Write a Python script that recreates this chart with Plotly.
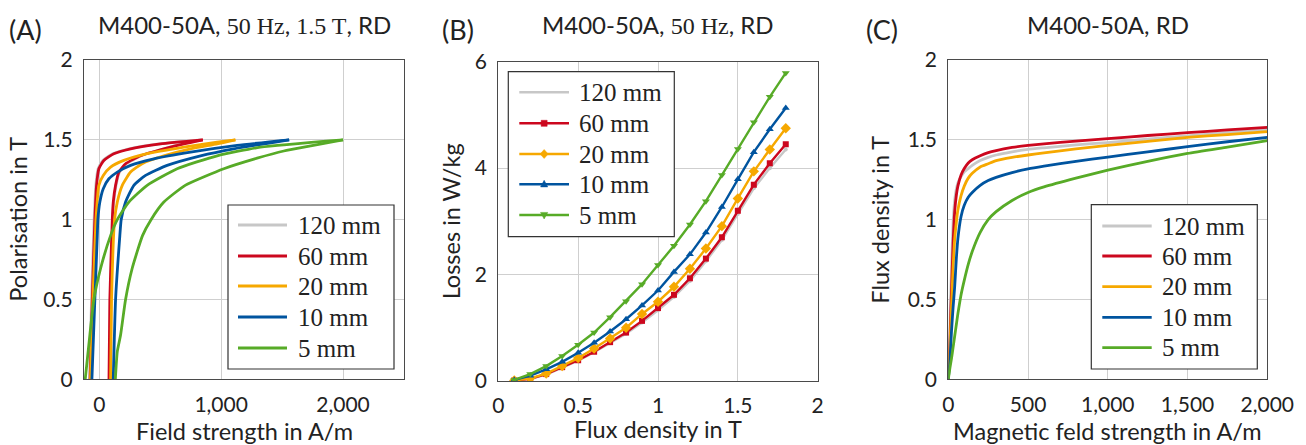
import plotly.graph_objects as go

W, H = 1306, 445
SANS = "Lato"
SERIF = "Liberation Serif"
INK = "#222222"

# ---------------- series meta ----------------
labels = ["120 mm", "60 mm", "20 mm", "10 mm", "5 mm"]
colors = ["#c7c7c7", "#cc071e", "#f6a800", "#00549f", "#57ab27"]
symbols_b = ["circle", "square", "diamond", "triangle-up", "triangle-down"]
msize_b = [4, 6, 8, 7, 7]

# ---------------- Panel A: hysteresis loops (H in A/m, J in T) ----------------
a_left_h = [
    [-81, -63, -42, -28, -9, 30, 110, 245, 490, 835],
    [-75, -57, -36, -22, -3, 38, 120, 257, 503, 850],
    [-72, -52, -27, -3, 33, 93, 202, 393, 694, 967, 1117],
    [-60, -36, -16, -11, 5, 33, 79, 148, 257, 448, 749, 1131, 1558],
    [-115, -77, -44, 11, 93, 148, 243, 393, 639, 967, 1322, 2000],
]
a_left_j = [
    [0, 0.5, 1.0, 1.215, 1.319, 1.371, 1.413, 1.444, 1.475, 1.5],
    [0, 0.5, 1.0, 1.215, 1.319, 1.371, 1.413, 1.444, 1.475, 1.5],
    [0, 0.5, 1.0, 1.215, 1.277, 1.329, 1.371, 1.413, 1.454, 1.485, 1.5],
    [0, 0.5, 0.9, 1.0, 1.11, 1.194, 1.256, 1.298, 1.34, 1.381, 1.423, 1.465, 1.5],
    [0, 0.277, 0.5, 0.694, 0.90, 1.0, 1.11, 1.215, 1.319, 1.40, 1.454, 1.5],
]
a_right_h = [
    [84, 91, 111, 119, 138, 166, 222, 345, 530, 680, 835],
    [80, 87, 107, 115, 134, 161, 216, 339, 530, 694, 850],
    [93, 101, 126, 148, 189, 257, 352, 530, 749, 967, 1117],
    [115, 134, 169, 180, 216, 284, 380, 557, 831, 1104, 1558],
    [132, 148, 175, 216, 270, 355, 425, 530, 705, 1022, 1295, 1514, 2000],
]
a_right_j = [
    [0, 0.5, 1.0, 1.11, 1.215, 1.298, 1.35, 1.40, 1.444, 1.475, 1.5],
    [0, 0.5, 1.0, 1.11, 1.215, 1.298, 1.35, 1.40, 1.444, 1.475, 1.5],
    [0, 0.5, 1.0, 1.11, 1.215, 1.298, 1.35, 1.40, 1.444, 1.475, 1.5],
    [0, 0.5, 0.9, 1.0, 1.11, 1.215, 1.277, 1.34, 1.40, 1.444, 1.5],
    [0, 0.173, 0.277, 0.5, 0.694, 0.90, 1.0, 1.11, 1.215, 1.319, 1.385, 1.43, 1.5],
]

# ---------------- Panel B: losses vs flux density ----------------
b_flux = [0.1, 0.2, 0.3, 0.4, 0.5, 0.6, 0.7, 0.8, 0.9, 1.0,
          1.1, 1.2, 1.3, 1.4, 1.5, 1.6, 1.7, 1.8]
b_loss = [
    [0.01, 0.04, 0.12, 0.25, 0.38, 0.54, 0.71, 0.89, 1.10, 1.33,
     1.58, 1.88, 2.25, 2.65, 3.14, 3.62, 4.00, 4.35],
    [0.01, 0.04, 0.13, 0.26, 0.39, 0.55, 0.73, 0.91, 1.13, 1.37,
     1.62, 1.93, 2.30, 2.70, 3.20, 3.69, 4.09, 4.45],
    [0.01, 0.05, 0.14, 0.28, 0.43, 0.61, 0.80, 1.00, 1.26, 1.49,
     1.77, 2.11, 2.49, 2.91, 3.43, 3.94, 4.35, 4.75],
    [0.02, 0.10, 0.22, 0.36, 0.53, 0.72, 0.93, 1.16, 1.42, 1.70,
     2.05, 2.38, 2.79, 3.27, 3.79, 4.30, 4.73, 5.13],
    [0.02, 0.13, 0.28, 0.47, 0.68, 0.91, 1.20, 1.50, 1.82, 2.18,
     2.54, 2.94, 3.38, 3.87, 4.36, 4.86, 5.34, 5.79],
]

# ---------------- Panel C: magnetisation curves ----------------
c_field = [0, 10, 20, 30, 40, 50, 60, 80, 100, 125, 150, 200, 250, 300,
           400, 500, 600, 800, 1000, 1250, 1500, 1750, 2000]
c_flux = [
    [0, 0.35, 0.70, 0.98, 1.12, 1.19, 1.23, 1.27, 1.30, 1.32, 1.34, 1.37, 1.39,
     1.405, 1.425, 1.44, 1.45, 1.468, 1.483, 1.505, 1.525, 1.547, 1.566],
    [0, 0.25, 0.55, 0.85, 1.05, 1.15, 1.21, 1.28, 1.32, 1.355, 1.375, 1.40, 1.42,
     1.433, 1.452, 1.465, 1.475, 1.492, 1.507, 1.527, 1.545, 1.562, 1.578],
    [0, 0.20, 0.45, 0.70, 0.88, 0.98, 1.06, 1.15, 1.21, 1.26, 1.29, 1.33, 1.35,
     1.37, 1.39, 1.405, 1.418, 1.443, 1.465, 1.49, 1.515, 1.533, 1.551],
    [0, 0.12, 0.30, 0.45, 0.58, 0.75, 0.88, 1.02, 1.09, 1.14, 1.17, 1.215, 1.245,
     1.265, 1.295, 1.318, 1.335, 1.365, 1.392, 1.425, 1.457, 1.488, 1.515],
    [0, 0.07, 0.13, 0.20, 0.27, 0.34, 0.41, 0.53, 0.62, 0.72, 0.80, 0.92, 1.00,
     1.05, 1.12, 1.17, 1.205, 1.26, 1.31, 1.365, 1.415, 1.455, 1.495],
]

# ---------------- text ----------------
titles = [
    'M400-50A, <span style="font-family:Liberation Serif">50 Hz</span>, '
    '<span style="font-family:Liberation Serif">1.5 T</span>, RD',
    'M400-50A, <span style="font-family:Liberation Serif">50 Hz</span>, RD',
    'M400-50A, RD',
]
panel_tags = ["(A)", "(B)", "(C)"]
x_titles = ["Field strength in A/m", "Flux density in T", "Magnetic feld strength in A/m"]
y_titles = ["Polarisation in T", "Losses in W/kg", "Flux density in T"]

# ---------------- figure ----------------
fig = go.Figure()

for i in range(5):
    for hh, jj in ((a_left_h[i], a_left_j[i]), (a_right_h[i], a_right_j[i])):
        fig.add_trace(go.Scatter(
            x=hh, y=jj, mode="lines", xaxis="x", yaxis="y",
            line=dict(color=colors[i], width=2.8, shape="spline", smoothing=0.5),
            showlegend=False, hoverinfo="skip"))

for i in range(5):
    fig.add_trace(go.Scatter(
        x=b_flux, y=b_loss[i], mode="lines+markers", xaxis="x2", yaxis="y2",
        line=dict(color=colors[i], width=2.4),
        marker=dict(symbol=symbols_b[i], size=msize_b[i], color=colors[i]),
        showlegend=False, hoverinfo="skip"))

for i in range(5):
    fig.add_trace(go.Scatter(
        x=c_field, y=c_flux[i], mode="lines", xaxis="x3", yaxis="y3",
        line=dict(color=colors[i], width=2.8, shape="spline", smoothing=0.5),
        showlegend=False, hoverinfo="skip"))


def px(xp):
    return xp / W


def py(yp):
    return 1 - yp / H


axis_common = dict(
    showgrid=True, gridcolor="#cfcfcf", gridwidth=1,
    zeroline=False, showline=True, linecolor="#4a4a4a", linewidth=1.2,
    mirror=True, ticks="", tickfont=dict(family=SANS, size=21, color=INK),
    ticklabelstandoff=6, automargin=False,
)

layout = dict(
    width=W, height=H, margin=dict(l=0, r=0, t=0, b=0, autoexpand=False),
    paper_bgcolor="white", plot_bgcolor="white", showlegend=False,
)

# panel domains in pixels: (left, right, top, bottom)
doms = [(84, 404, 60, 379.3), (498.3, 817.7, 61.7, 381), (948.3, 1267.3, 60, 379.3)]
xranges = [[-125, 2500], [0, 2], [0, 2000]]
yranges = [[0, 2], [0, 6], [0, 2]]
xticks = [[0, 1000, 2000], [0, 0.5, 1, 1.5, 2], [0, 500, 1000, 1500, 2000]]
yticks = [[0, 0.5, 1, 1.5, 2], [0, 2, 4, 6], [0, 0.5, 1, 1.5, 2]]

for k in range(3):
    l, r, t, b = doms[k]
    sx = "" if k == 0 else str(k + 1)
    layout["xaxis" + sx] = dict(
        axis_common, domain=[px(l), px(r)], range=xranges[k],
        tickvals=xticks[k], tickformat=",", anchor="y" + sx)
    layout["yaxis" + sx] = dict(
        axis_common, domain=[py(b), py(t)], range=yranges[k],
        tickvals=yticks[k], anchor="x" + sx)

fig.update_layout(**layout)

annotations = []
shapes = []


def ann(text, xp, yp, size, family=SANS, xanchor="center", yanchor="middle", angle=0, color=INK):
    annotations.append(dict(
        text=text, x=px(xp), y=py(yp), xref="paper", yref="paper", showarrow=False,
        font=dict(family=family, size=size, color=color),
        xanchor=xanchor, yanchor=yanchor, textangle=angle))


tag_x = [25.5, 457.5, 882]
title_x = [244, 658, 1108]
xt_y = [431, 429, 431]
yt_x = [18, 451, 880]
for k in range(3):
    l, r, t, b = doms[k]
    ann(panel_tags[k], tag_x[k], 30, 27)
    ann(titles[k], title_x[k], 24, 24)
    ann(x_titles[k], (l + r) / 2, xt_y[k], 23.5)
    ann(y_titles[k], yt_x[k], (t + b) / 2, 23.5, angle=-90)

# legends: box (l, r, t, b), line x0, x1, text x, rows y
legends = [
    ((228, 394, 205, 369), 238, 287, 296, [225, 256, 286, 317, 348], False),
    ((508.3, 674.3, 71.7, 236.7), 519.3, 569, 577.3, [92.3, 123.3, 154, 184.3, 215], True),
    ((1091.3, 1257.3, 204.7, 369), 1102.3, 1151.7, 1160, [226, 256, 286.7, 317.3, 347.7], False),
]

marker_paths = [
    "M-2,0 A2,2 0 1 0 2,0 A2,2 0 1 0 -2,0 Z",
    "M-3,-3 L3,-3 L3,3 L-3,3 Z",
    "M0,4.5 L4,0 L0,-4.5 L-4,0 Z",
    "M0,4 L3.6,-2.6 L-3.6,-2.6 Z",
    "M0,-4 L3.6,2.6 L-3.6,2.6 Z",
]

for (bl, br, bt, bb), lx0, lx1, tx, rows, with_m in legends:
    shapes.append(dict(type="rect", xref="paper", yref="paper",
                       x0=px(bl), x1=px(br), y0=py(bb), y1=py(bt),
                       line=dict(color="#333333", width=1.2), fillcolor="white", layer="above"))
    for i in range(5):
        shapes.append(dict(type="line", xref="paper", yref="paper",
                           x0=px(lx0), x1=px(lx1), y0=py(rows[i]), y1=py(rows[i]),
                           line=dict(color=colors[i], width=2.8 if not with_m else 2.4),
                           layer="above"))
        if with_m:
            shapes.append(dict(type="path", xref="paper", yref="paper",
                               xsizemode="pixel", ysizemode="pixel",
                               xanchor=px((lx0 + lx1) / 2), yanchor=py(rows[i]),
                               path=marker_paths[i], fillcolor=colors[i],
                               line=dict(color=colors[i], width=0.5), layer="above"))
        ann(labels[i], tx, rows[i], 25, family=SERIF, xanchor="left")

fig.update_layout(annotations=annotations, shapes=shapes)

fig.write_html(
    "out.html",
    config={"displayModeBar": False},
    post_script="document.body.style.margin='0';document.body.style.overflow='hidden';",
)
